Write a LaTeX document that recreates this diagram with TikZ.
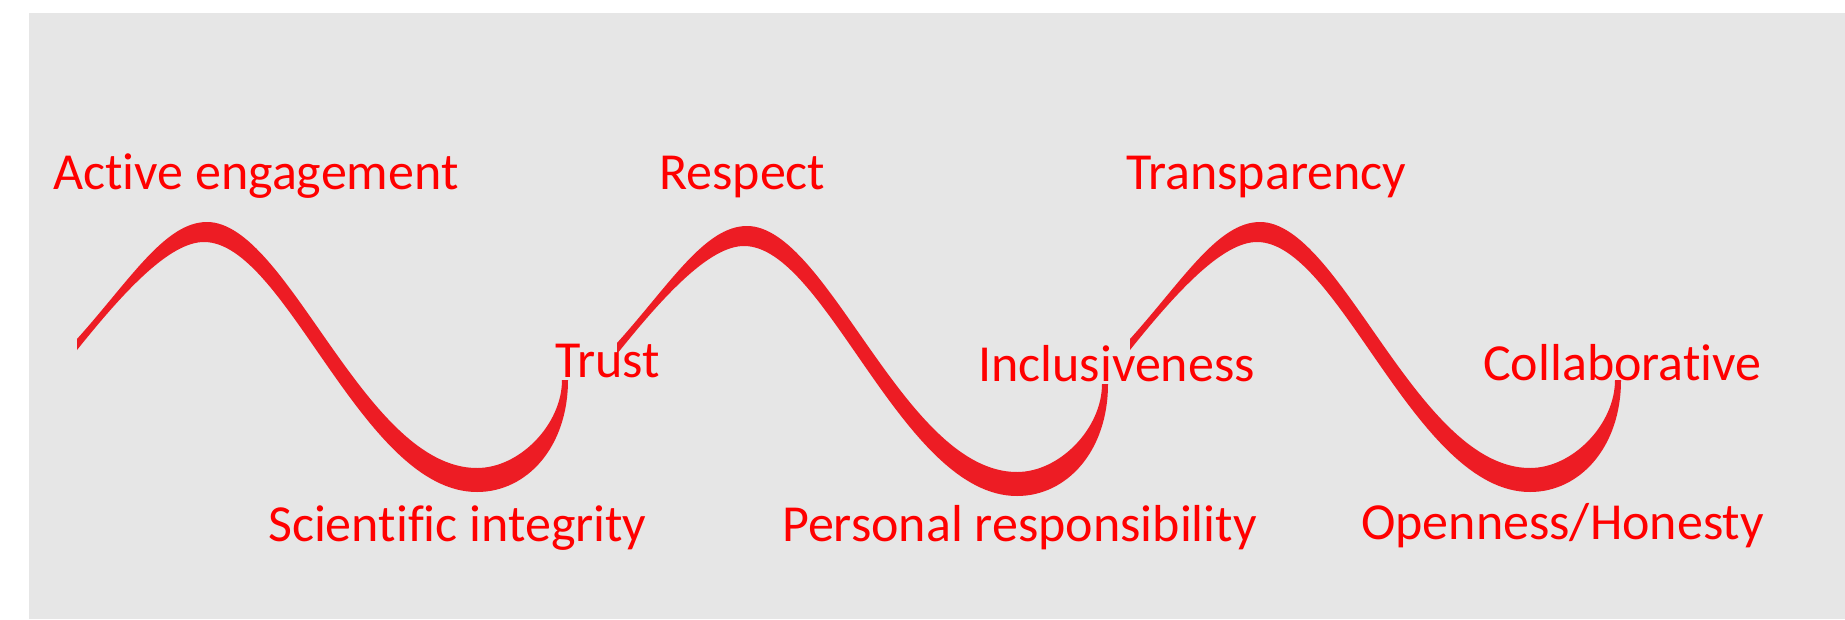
\documentclass[tikz,border=0pt]{standalone}
\usepackage{fontspec}
\setmainfont{Carlito}[Ligatures=NoCommon]
\definecolor{wavered}{HTML}{ED1C24}
\definecolor{txtred}{HTML}{FF0000}
\definecolor{panelgray}{HTML}{E6E6E6}
\newcommand\wavestroke{%
  \fill[wavered] (77,339) .. controls (130,280) and (165,222) .. (207,222)
    .. controls (288,222) and (364,468) .. (477,468)
    .. controls (520,468) and (562,424) .. (562,380)
    -- (568,380)
    .. controls (568,447) and (527,492) .. (477,492)
    .. controls (362,492) and (286,242) .. (204,242)
    .. controls (170,242) and (125,290) .. (77,350)
    -- cycle;}
\begin{document}
\begin{tikzpicture}[x=1pt,y=-1pt,
  lbl/.style={text=txtred, font=\fontsize{52}{62}\selectfont, inner sep=0pt, anchor=base west}]
\useasboundingbox (0,0) rectangle (1845,619);
\fill[white] (0,0) rectangle (1845,619);
\fill[panelgray] (29,13) rectangle (1845,619);
% waves
\begin{scope}\wavestroke\end{scope}
\begin{scope}[shift={(540,4)}]\wavestroke\end{scope}
\begin{scope}[shift={(1053,0)}]\wavestroke\end{scope}
% labels
\node[lbl] (ae) at (53,189) {Active engagement};
\node[lbl] (resp) at (659,189) {Respect};
\node[lbl] (transp) at (1126,189) {Transparency};
\node[lbl] (trust) at (555,377) {Trust};
\node[lbl] (incl) at (978,381) {Inclusiveness};
\node[lbl] (collab) at (1483,380) {Collaborative};
\node[lbl] (sci) at (268,541) {Scientific integrity};
\node[lbl] (pers) at (782,541) {Personal responsibility};
\node[lbl] (open) at (1361,539) {Openness/Honesty};
\end{tikzpicture}
\end{document}
